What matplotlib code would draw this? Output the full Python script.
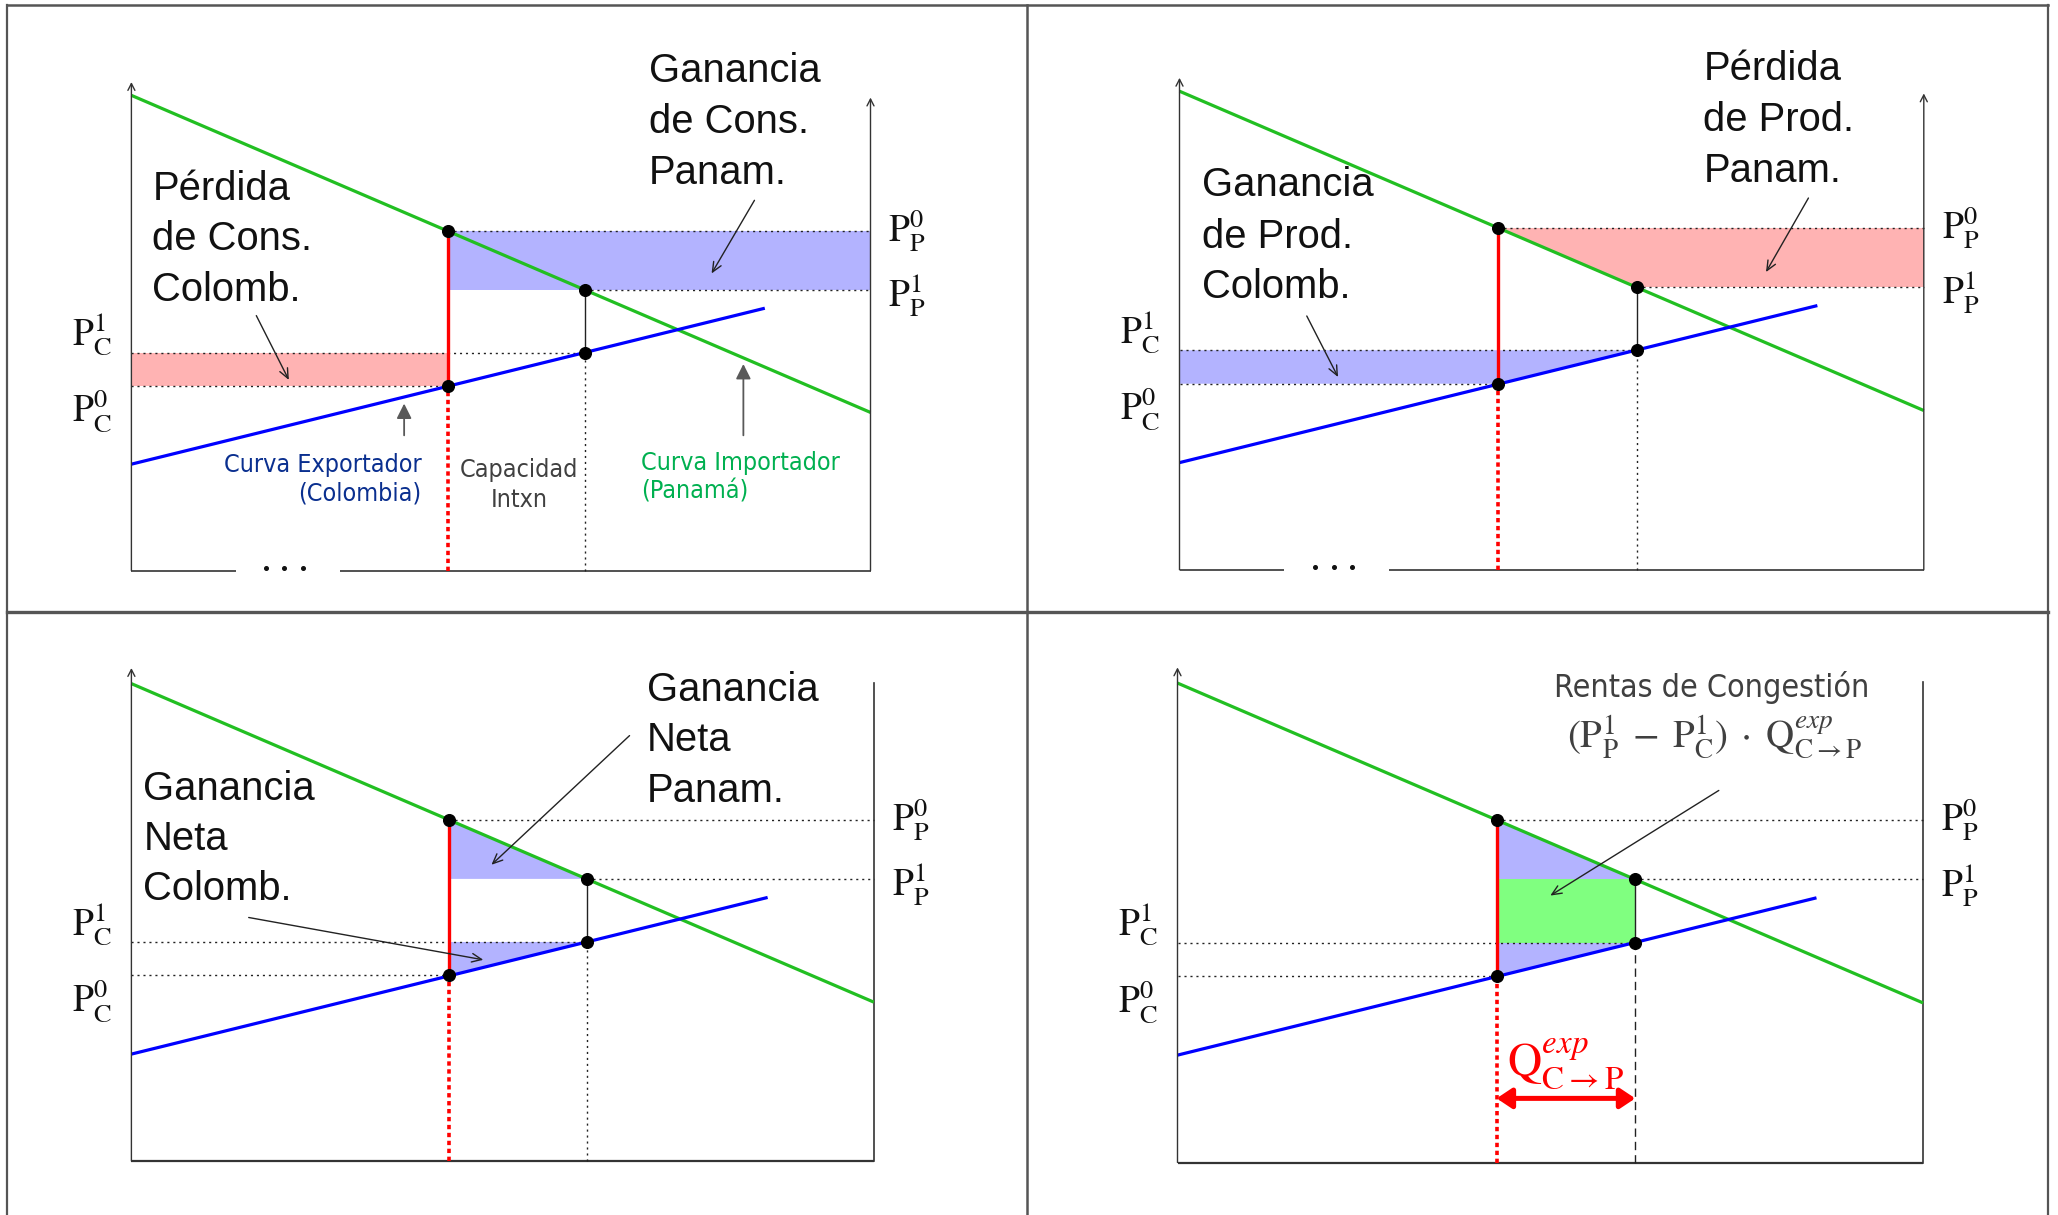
import matplotlib
matplotlib.use('Agg')
import matplotlib.pyplot as plt
from matplotlib.lines import Line2D
from matplotlib.patches import Polygon

plt.rcParams['mathtext.fontset'] = 'stix'

W, H = 2058, 1215
DPI = 100

# ---------------- data ----------------
import_q = [0, 100]          # Panamá importer curve (green)
import_p = [64.3, 21.4]
export_q = [0, 85.7]         # Colombia exporter curve (blue)
export_p = [14.4, 35.5]
q_cap = 42.8                 # capacidad interconexión
q_exp = 61.4                 # equilibrio con intercambio
price_names = ['P_P0', 'P_P1', 'P_C1', 'P_C0']
price_vals = [45.9, 38.0, 29.5, 25.0]
left_labels = [r'$\mathrm{P}^{1}_{\mathrm{C}}$', r'$\mathrm{P}^{0}_{\mathrm{C}}$']
right_labels = [r'$\mathrm{P}^{0}_{\mathrm{P}}$', r'$\mathrm{P}^{1}_{\mathrm{P}}$']

GREEN = '#22bf22'
BLUE = '#0000ff'
RED = '#ff0000'
BLUE_FILL = '#b3b3ff'
RED_FILL = '#ffb3b3'
GREEN_FILL = '#80ff80'
INK = '#222222'
AXC = '#333333'
NAVY = '#0a2f8f'
TXTGREEN = '#00b050'
GRAY = '#404040'

BIG = dict(family='Liberation Sans', fontsize=28.8, color='#111111')
SMALL = dict(family=['DejaVu Sans'], fontstretch='condensed', fontsize=18)

fig = plt.figure(figsize=(W / DPI, H / DPI), dpi=DPI)
fig.patch.set_facecolor('white')


def panel(cell, origin, s):
    x0, y0, x1, y1 = cell
    ax = fig.add_axes([x0 / W, 1 - y1 / H, (x1 - x0) / W, (y1 - y0) / H])
    ox, oy = origin
    ax.set_xlim((x0 - ox) / s, (x1 - ox) / s)
    ax.set_ylim((oy - y1) / s, (oy - y0) / s)
    ax.set_axis_off()
    return ax


def arrow(ax, start, end, color=INK, lw=1.0, style='->,head_length=0.5,head_width=0.22', ms=14, z=8):
    ax.annotate('', xy=end, xytext=start,
                arrowprops=dict(arrowstyle=style, color=color, lw=lw,
                                shrinkA=0, shrinkB=0, mutation_scale=ms),
                zorder=z, annotation_clip=False)


def text_lines(ax, x, ys, lines, **kw):
    for y, t in zip(ys, lines):
        ax.text(x, y, t, va='baseline', **kw)


def base(ax, top_panel, dashed_below=False):
    PP0, PP1, PC1, PC0 = price_vals
    # axes
    if top_panel:
        arrow(ax, (0, 0), (0, 66.1), color=AXC, lw=1.0, style='->,head_length=0.35,head_width=0.18', ms=14)
        arrow(ax, (100, 0), (100, 64.0), color=AXC, lw=1.0, style='->,head_length=0.35,head_width=0.18', ms=14)
        ax.plot([0, 14.1], [0, 0], color=AXC, lw=1.2, solid_capstyle='butt')
        ax.plot([28.2, 100], [0, 0], color=AXC, lw=1.2, solid_capstyle='butt')
        ax.plot([18.2, 20.7, 23.2], [0.35, 0.35, 0.35], 'o', color='#111', ms=2.6)
    else:
        arrow(ax, (0, 0), (0, 66.4), color=AXC, lw=1.0, style='->,head_length=0.35,head_width=0.18', ms=14)
        ax.plot([100, 100], [0, 64.4], color=AXC, lw=1.2)
        ax.plot([0, 100], [0, 0], color=AXC, lw=1.6, solid_capstyle='butt')
    dot = (0, (1.5, 2.8))
    ax.plot([q_cap, 100], [PP0, PP0], ls=dot, color=INK, lw=1.0, zorder=3)
    ax.plot([q_exp, 100], [PP1, PP1], ls=dot, color=INK, lw=1.0, zorder=3)
    ax.plot([0, q_exp], [PC1, PC1], ls=dot, color=INK, lw=1.0, zorder=3)
    ax.plot([0, q_cap], [PC0, PC0], ls=dot, color=INK, lw=1.0, zorder=3)
    # verticals
    ax.plot([q_cap, q_cap], [PC0, PP0], color=RED, lw=2.4, zorder=5, solid_capstyle='butt')
    ax.plot([q_cap, q_cap], [0, PC0], color=RED, lw=2.6, ls=(0, (1.2, 1.0)), zorder=5)
    ax.plot([q_exp, q_exp], [PC1, PP1], color=INK, lw=1.0, zorder=5)
    if dashed_below:
        ax.plot([q_exp, q_exp], [0, PC1], color=INK, lw=1.0, ls=(0, (6, 3.6)), zorder=5)
    else:
        ax.plot([q_exp, q_exp], [0, PC1], color=INK, lw=1.0, ls=dot, zorder=5)
    # curves
    ax.plot(import_q, import_p, color=GREEN, lw=2.3, zorder=6, solid_capstyle='butt')
    ax.plot(export_q, export_p, color=BLUE, lw=2.3, zorder=6, solid_capstyle='butt')
    # points
    ax.plot([q_cap, q_exp, q_exp, q_cap], [PP0, PP1, PC1, PC0], 'o', color='black', ms=8.4, zorder=10)
    # price labels
    ax.text(-2.6, PC1 + 0.9, left_labels[0], ha='right', va='baseline', fontsize=27, color='#111')
    ax.text(-2.6, PC0 - 4.9, left_labels[1], ha='right', va='baseline', fontsize=27, color='#111')
    ax.text(102.4, PP0 - 1.4, right_labels[0], ha='left', va='baseline', fontsize=27, color='#111')
    ax.text(102.4, PP1 - 2.3, right_labels[1], ha='left', va='baseline', fontsize=27, color='#111')


PP0, PP1, PC1, PC0 = price_vals

# ---------- panel 1 (top-left) ----------
ax1 = panel((8, 5, 1026, 612), (131.4, 570.6), 7.391)
ax1.add_patch(Polygon([(q_cap, PP1), (100, PP1), (100, PP0), (q_cap, PP0)], closed=True,
                      facecolor=BLUE_FILL, edgecolor='none', zorder=1))
ax1.add_patch(Polygon([(0, PC0), (q_cap, PC0), (q_cap, PC1), (0, PC1)], closed=True,
                      facecolor=RED_FILL, edgecolor='none', zorder=1))
base(ax1, True)
text_lines(ax1, 2.84, [50.14, 43.4, 36.5], ['Pérdida', 'de Cons.', 'Colomb.'], **BIG)
text_lines(ax1, 70.0, [66.05, 59.27, 52.27], ['Ganancia', 'de Cons.', 'Panam.'], **BIG)
arrow(ax1, (16.9, 34.5), (21.3, 25.8))
arrow(ax1, (84.3, 50.1), (78.5, 40.2))
text_lines(ax1, 39.3, [13.4, 9.46], ['Curva Exportador', '(Colombia)'], ha='right', color=NAVY, **SMALL)
text_lines(ax1, 52.5, [12.7, 8.65], ['Capacidad', 'Intxn'], ha='center', color=GRAY, **SMALL)
text_lines(ax1, 68.9, [13.6, 9.7], ['Curva Importador', '(Panamá)'], ha='left', color=TXTGREEN, **SMALL)
arrow(ax1, (36.9, 18.3), (36.9, 22.6), color='#595959', lw=1.3, style='-|>,head_length=0.5,head_width=0.25', ms=18)
arrow(ax1, (82.8, 18.3), (82.8, 27.95), color='#595959', lw=1.3, style='-|>,head_length=0.5,head_width=0.25', ms=18)

# ---------- panel 2 (top-right) ----------
ax2 = panel((1028, 5, 2047, 612), (1179.5, 569.8), 7.443)
ax2.add_patch(Polygon([(q_cap, PP0), (100, PP0), (100, PP1), (q_exp, PP1)], closed=True,
                      facecolor=RED_FILL, edgecolor='none', zorder=1))
ax2.add_patch(Polygon([(0, PC0), (q_cap, PC0), (q_exp, PC1), (0, PC1)], closed=True,
                      facecolor=BLUE_FILL, edgecolor='none', zorder=1))
base(ax2, True)
text_lines(ax2, 3.0, [50.2, 43.3, 36.5], ['Ganancia', 'de Prod.', 'Colomb.'], **BIG)
text_lines(ax2, 70.4, [65.75, 58.9, 52.05], ['Pérdida', 'de Prod.', 'Panam.'], **BIG)
arrow(ax2, (17.1, 34.1), (21.3, 25.9))
arrow(ax2, (84.5, 49.95), (78.8, 40.0))

# ---------- panel 3 (bottom-left) ----------
ax3 = panel((8, 613, 1026, 1215), (131.4, 1161.0), 7.424)
ax3.add_patch(Polygon([(q_cap, PP0), (q_exp, PP1), (q_cap, PP1)], closed=True,
                      facecolor=BLUE_FILL, edgecolor='none', zorder=1))
ax3.add_patch(Polygon([(q_cap, PC0), (q_exp, PC1), (q_cap, PC1)], closed=True,
                      facecolor=BLUE_FILL, edgecolor='none', zorder=1))
base(ax3, False)
text_lines(ax3, 1.6, [48.65, 41.9, 35.1], ['Ganancia', 'Neta', 'Colomb.'], **BIG)
text_lines(ax3, 69.45, [62.0, 55.25, 48.4], ['Ganancia', 'Neta', 'Panam.'], **BIG)
arrow(ax3, (67.1, 57.3), (48.5, 39.9))
arrow(ax3, (15.8, 32.8), (47.4, 27.1))

# ---------- panel 4 (bottom-right) ----------
ax4 = panel((1028, 613, 2047, 1215), (1177.5, 1162.5), 7.456)
ax4.add_patch(Polygon([(q_cap, PP0), (q_exp, PP1), (q_cap, PP1)], closed=True,
                      facecolor=BLUE_FILL, edgecolor='none', zorder=1))
ax4.add_patch(Polygon([(q_cap, PC0), (q_exp, PC1), (q_cap, PC1)], closed=True,
                      facecolor=BLUE_FILL, edgecolor='none', zorder=1))
ax4.add_patch(Polygon([(q_cap, PC1), (q_exp, PC1), (q_exp, PP1), (q_cap, PP1)], closed=True,
                      facecolor=GREEN_FILL, edgecolor='none', zorder=1))
base(ax4, False, dashed_below=True)
ax4.text(71.6, 62.5, 'Rentas de Congestión', ha='center', va='baseline', color=GRAY,
         family=['DejaVu Sans'], fontstretch='condensed', fontsize=23)
ax4.text(72.0, 55.7,
         r'$(\mathrm{P}^{1}_{\mathrm{P}}\;-\;\mathrm{P}^{1}_{\mathrm{C}})\;\cdot\;\mathrm{Q}^{exp}_{\mathrm{C}{\rightarrow}\mathrm{P}}$',
         ha='center', va='baseline', color=GRAY, fontsize=28)
arrow(ax4, (72.6, 49.9), (50.0, 35.8))
ax4.text((q_cap + q_exp) / 2, 11.5, r'$\mathrm{Q}^{exp}_{\mathrm{C}{\rightarrow}\mathrm{P}}$',
         ha='center', va='baseline', color=RED, fontsize=34)
arrow(ax4, (q_cap, 8.6), (q_exp, 8.6), color=RED, lw=3.6,
      style='<|-|>,head_length=0.45,head_width=0.3', ms=20, z=9)

# ---------- table grid ----------
GRID = '#555555'
for (xa, ya, xb, yb, lw) in [(7, 5, 2048, 5, 1.8), (7, 5, 7, 1215, 1.6), (2048, 5, 2048, 1215, 1.6),
                             (1027, 5, 1027, 1215, 1.8), (7, 612, 2048, 612, 2.4)]:
    fig.add_artist(Line2D([xa / W, xb / W], [1 - ya / H, 1 - yb / H], color=GRID, lw=lw,
                          transform=fig.transFigure))

fig.savefig('out.png', dpi=DPI, facecolor='white')
